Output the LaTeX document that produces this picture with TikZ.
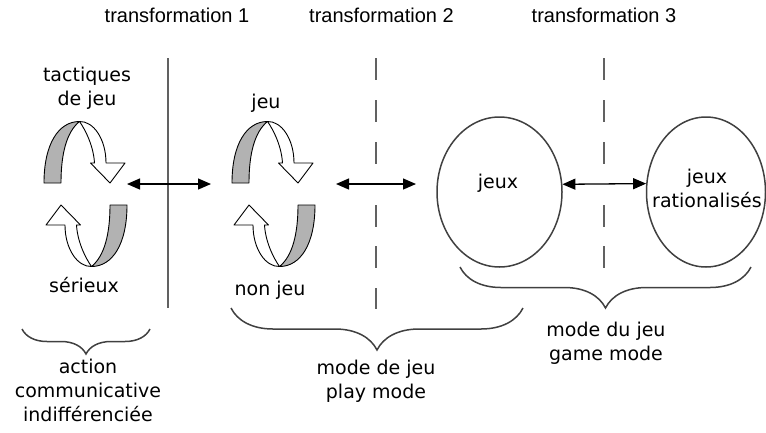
\documentclass[tikz,border=0pt]{standalone}
\usepackage{fontspec}
\setmainfont{DejaVu Sans}
\newfontfamily\headfont{Liberation Sans}
\usetikzlibrary{arrows.meta,decorations.pathreplacing,shapes.geometric}

\tikzset{
  % one twisted ribbon half: grey back side and white front with its arrowhead
  turnpair/.pic={
    \begin{scope}[yscale=-1]
      \foreach \r in {0,180}{
        \begin{scope}[rotate=\r]
          \draw[ribbonback] (-41.5,11) .. controls (-41.5,50) and (-27,72.5) .. (-6,72.5)
                .. controls (-19,62) and (-24.5,40) .. (-24.5,11) -- cycle;
          \draw[ribbonfront] (-6,72.5) .. controls (8,73) and (20.5,55) .. (20.5,31)
                -- (39.5,31) -- (24.5,11) -- (5,31) -- (9,31)
                .. controls (8,48) and (0,64) .. (-6,72.5) -- cycle;
        \end{scope}
      }
    \end{scope}
  }
}

\begin{document}
\begin{tikzpicture}[x=1pt,y=-1pt,
  lbl/.style={font=\fontsize{19}{24}\selectfont, inner sep=0pt, anchor=base, align=center},
  head/.style={font=\headfont\fontsize{20}{24}\selectfont, inner sep=0pt, anchor=base},
  divider/.style={draw=black!62, line width=2pt},
  link/.style={line width=1.3pt, {Triangle[length=13pt,width=11pt]}-{Triangle[length=13pt,width=11pt]}},
  bubble/.style={ellipse, draw=black!75, line width=1.5pt, inner sep=0pt, minimum height=150pt},
  grouping/.style={draw=black!75, line width=1.5pt, decorate, decoration={brace, amplitude=#1}},
  ribbonback/.style={draw=black, line width=0.9pt, fill=black!30, line join=round},
  ribbonfront/.style={draw=black, line width=0.9pt, fill=white, line join=round},
]
\useasboundingbox (0,0) rectangle (766,432);

% column headings
\node[head] (t1) at (177,22.7) {transformation 1};
\node[head] (t2) at (381.5,22.7) {transformation 2};
\node[head] (t3) at (604,22.7) {transformation 3};

% separators between the stages
\draw[divider] (168,58) -- (168,308);
\foreach \a/\b in {58/80,100/122,142/164,205/227,246/268,288/309}
  \draw[divider] (376,\a) -- (376,\b);
\foreach \a/\b in {58/80,100/122,142/164,205/227,246/268}
  \draw[divider] (604,\a) -- (604,\b);

% twisted cycle icons
\pic (cycA) at (85.5,194) {turnpair};
\pic (cycB) at (273.5,194) {turnpair};

% labels of the cycles (multi-line nodes sit on their last baseline)
\node[lbl] (tact) at (87,105) {tactiques\\de jeu};
\node[lbl] (ser) at (84,292) {sérieux};
\node[lbl] (jeu) at (266,108) {jeu};
\node[lbl] (nonjeu) at (270,295) {non jeu};

% the two games
\node[bubble, minimum width=125pt] (e1) at (499.5,192) {};
\node[bubble, minimum width=119pt] (e2) at (706,192) {};
\node[lbl] (jeux) at (498,188) {jeux};
\node[lbl] (jeuxr) at (707,207) {jeux\\rationalisés};

% double arrows
\coordinate (a1l) at (127,184);
\coordinate (a1r) at (211,184);
\coordinate (a2l) at (336,184);
\coordinate (a2r) at (416,184);
\draw[link] (a1l) -- (a1r);
\draw[link] (a2l) -- (a2r);
\draw[link] (e1.7) -- (e2.172);

% grouping braces
\draw[grouping=25pt] (150,329) -- (22,329);
\draw[grouping=42pt] (523,308) -- (231,308);
\draw[grouping=41pt] (751,267) -- (460,267);

% group captions
\node[lbl] (acc) at (88,421) {action\\communicative\\indifférenciée};
\node[lbl] (play) at (376,398) {mode de jeu\\play mode};
\node[lbl] (game) at (606,360) {mode du jeu\\game mode};
\end{tikzpicture}
\end{document}
